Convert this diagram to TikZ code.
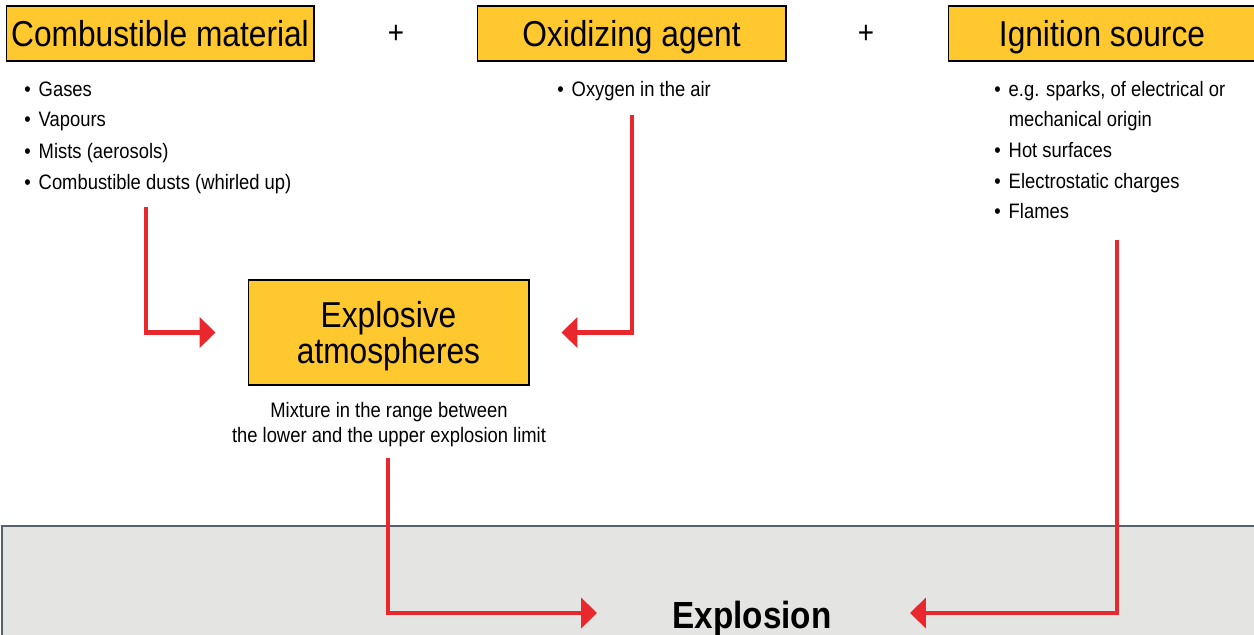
\documentclass[tikz,border=0pt]{standalone}
\usepackage{fontspec}
\setmainfont{Liberation Sans}[FakeStretch=0.88]
\usetikzlibrary{arrows.meta}
\definecolor{exyellow}{HTML}{FFC82E}
\definecolor{exred}{HTML}{E8282D}
\definecolor{exband}{HTML}{E4E4E2}
\definecolor{exedge}{HTML}{56616B}
\newcommand{\itm}{\textbullet\hspace{0.38em}}
\tikzset{
  titlebox/.style={draw=black,line width=0.6pt,fill=exyellow,minimum height=1.1cm,
    inner sep=0pt,text depth=0pt,font=\fontsize{20.5}{21}\selectfont},
  item/.style={anchor=base west,inner sep=0pt,font=\fontsize{11.9}{14}\selectfont},
  plus/.style={font=\fontsize{18}{18}\selectfont},
  flow/.style={draw=exred,line width=2.3pt,-{Triangle[length=9pt,width=17pt]}},
}
\begin{document}
\begin{tikzpicture}[x=0.02cm,y=-0.02cm]
    \useasboundingbox (0,0) rectangle (1254,635);
    % bottom band
    \fill[exband] (2,526) rectangle (1254,635);
    \draw[exedge,line width=1pt] (2,635) -- (2,526) -- (1254,526);

    % the three conditions
    \node[titlebox,minimum width=6.16cm] (comb) at (160,33.5) {Combustible material};
    \node[titlebox,minimum width=6.18cm] (oxid) at (631.5,33.5) {Oxidizing agent};
    \node[titlebox,minimum width=6.16cm] (ign) at (1102,33.5) {Ignition source};
    \node[plus] (plusa) at (396,34) {+};
    \node[plus] (plusb) at (866,34) {+};

    \foreach \txt [count=\i] in {Gases,Vapours,Mists (aerosols),Combustible dusts (whirled up)}
        \node[item] (comb\i) at (24,{96+31*(\i-1)}) {\itm\txt};
    \node[item] (oxid1) at (557,96) {\itm Oxygen in the air};
    \foreach \txt [count=\i] in {{\itm e.g. sparks, of electrical or},
        {\phantom{\itm}mechanical origin},{\itm Hot surfaces},
        {\itm Electrostatic charges},{\itm Flames}}
        \node[item] (ign\i) at (994,{96+30.7*(\i-1)}) {\txt};

    % mixture
    \node[titlebox,minimum width=5.62cm,minimum height=2.1cm,align=center] (atmo)
        at (388.5,332.5) {Explosive\\atmospheres};
    \node[align=center,inner sep=0pt,font=\fontsize{11.9}{14.2}\selectfont] (mix)
        at (389,425) {Mixture in the range between\\the lower and the upper explosion limit};

    \node[inner sep=0pt,anchor=base,font=\fontsize{21.5}{22}\selectfont\bfseries] (boom)
        at (752,628) {Explosion};

    % connectors
    \coordinate (combout) at (146,207);
    \coordinate (oxidout) at (632,115);
    \coordinate (atmoout) at (388,458);
    \coordinate (ignout) at (1117,240);
    \coordinate (boomL) at (597,613);
    \coordinate (boomR) at (910,613);
    \draw[flow] (combout) |- ([xshift=-0.64cm]atmo.west);
    \draw[flow] (oxidout) |- ([xshift=0.64cm]atmo.east);
    \draw[flow] (atmoout) |- (boomL);
    \draw[flow] (ignout) |- (boomR);
\end{tikzpicture}
\end{document}
